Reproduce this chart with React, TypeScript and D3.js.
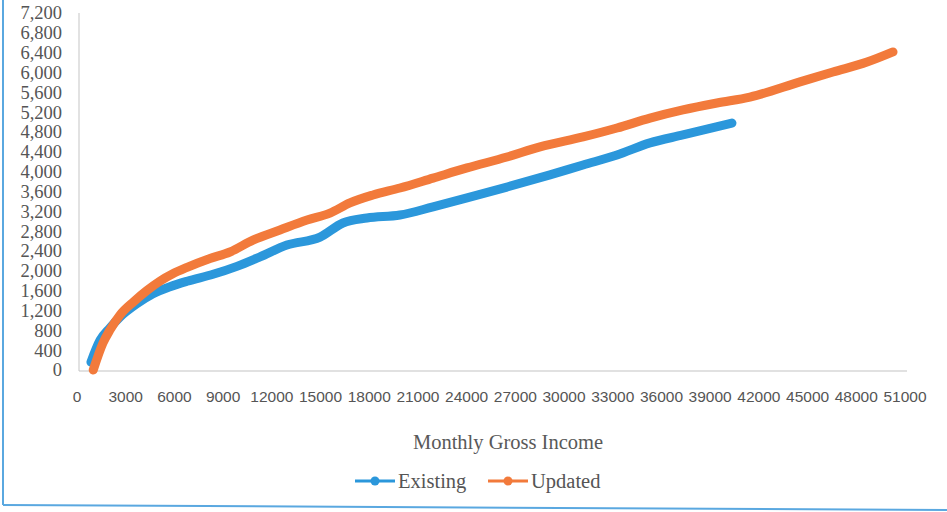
import React from "react";
import * as d3 from "d3";

const yTicks = [0, 400, 800, 1200, 1600, 2000, 2400, 2800, 3200, 3600, 4000, 4400, 4800, 5200, 5600, 6000, 6400, 6800, 7200];
const xTicks = [0, 3000, 6000, 9000, 12000, 15000, 18000, 21000, 24000, 27000, 30000, 33000, 36000, 39000, 42000, 45000, 48000, 51000];

const existingIncome = [860, 1420, 2030, 2650, 3700, 4680, 5730, 6780, 8380, 9850, 11270, 12930, 14970, 16380, 17860, 19890, 21930, 24020, 26480, 29130, 31170, 33260, 35290, 37320, 40340];
const existingValue = [160, 600, 850, 1070, 1340, 1540, 1680, 1790, 1930, 2090, 2280, 2520, 2680, 2965, 3065, 3125, 3290, 3470, 3690, 3935, 4135, 4335, 4580, 4740, 4980];

const updatedIncome = [1000, 1600, 2030, 2650, 3500, 4300, 5100, 5900, 6780, 8190, 9420, 10840, 12500, 14170, 15580, 16810, 18230, 19890, 21930, 24020, 26480, 28520, 31170, 33260, 35290, 37320, 39420, 41450, 44530, 46560, 48660, 50260];
const updatedValue = [0, 545, 807, 1110, 1380, 1600, 1790, 1940, 2070, 2250, 2380, 2620, 2825, 3025, 3165, 3370, 3530, 3670, 3870, 4075, 4295, 4500, 4700, 4880, 5080, 5245, 5385, 5505, 5810, 6010, 6210, 6415];

const seriesNames = ["Existing", "Updated"];
const colors = ["#2b97db", "#f27a3b"];

export default function App() {
  const x = d3.scaleLinear().domain([0, 51000]).range([77, 905]);
  const y = d3.scaleLinear().domain([0, 7200]).range([370, 13]);
  const line = d3
    .line<[number, number]>()
    .x((d) => x(d[0]))
    .y((d) => y(d[1]))
    .curve(d3.curveMonotoneX);
  const existing = existingIncome.map((v, i) => [v, existingValue[i]] as [number, number]);
  const updated = updatedIncome.map((v, i) => [v, updatedValue[i]] as [number, number]);
  const serif = "'Liberation Serif', 'DejaVu Serif', serif";
  const sans = "'Liberation Sans', Arial, sans-serif";
  return (
    <svg width={947} height={512} style={{ position: "absolute", left: 0, top: 0, background: "#fff" }}>
      <rect x={0} y={0} width={947} height={512} fill="#fff" />
      {/* frame */}
      <line x1={3} y1={0} x2={3} y2={505} stroke="#5aa8e0" strokeWidth={2} />
      <line x1={3} y1={505} x2={947} y2={510} stroke="#5aa8e0" strokeWidth={2} />
      {/* axes */}
      <line x1={x(0) + 2} y1={y(7200)} x2={x(0) + 2} y2={y(0) + 1} stroke="#cfcfcf" strokeWidth={1.2} />
      <line x1={x(0) + 2} y1={y(0) + 1} x2={907} y2={y(0) + 1} stroke="#c4c4c4" strokeWidth={1.2} />
      {yTicks.map((t) => (
        <text key={t} x={62} y={y(t)} dy="0.35em" textAnchor="end" fontFamily={serif} fontSize={18.5} fill="#555">
          {d3.format(",")(t)}
        </text>
      ))}
      {xTicks.map((t) => (
        <text key={t} x={x(t)} y={397} dy="0.35em" textAnchor="middle" fontFamily={sans} fontSize={15.5} fill="#555">
          {t}
        </text>
      ))}
      <text x={508} y={442} dy="0.35em" textAnchor="middle" fontFamily={serif} fontSize={20.5} fill="#595959">
        Monthly Gross Income
      </text>
      {/* series */}
      <path d={line(existing) || ""} fill="none" stroke={colors[0]} strokeWidth={9} strokeLinecap="round" strokeLinejoin="round" />
      <path d={line(updated) || ""} fill="none" stroke={colors[1]} strokeWidth={9} strokeLinecap="round" strokeLinejoin="round" />
      {/* legend */}
      {seriesNames.map((n, i) => {
        const lx = i === 0 ? 355 : 488;
        return (
          <g key={n}>
            <line x1={lx} y1={481} x2={lx + 40} y2={481} stroke={colors[i]} strokeWidth={3} />
            <circle cx={lx + 20} cy={481} r={4.5} fill={colors[i]} />
            <text x={lx + 43} y={481} dy="0.35em" fontFamily={serif} fontSize={20.5} fill="#555">
              {n}
            </text>
          </g>
        );
      })}
    </svg>
  );
}
